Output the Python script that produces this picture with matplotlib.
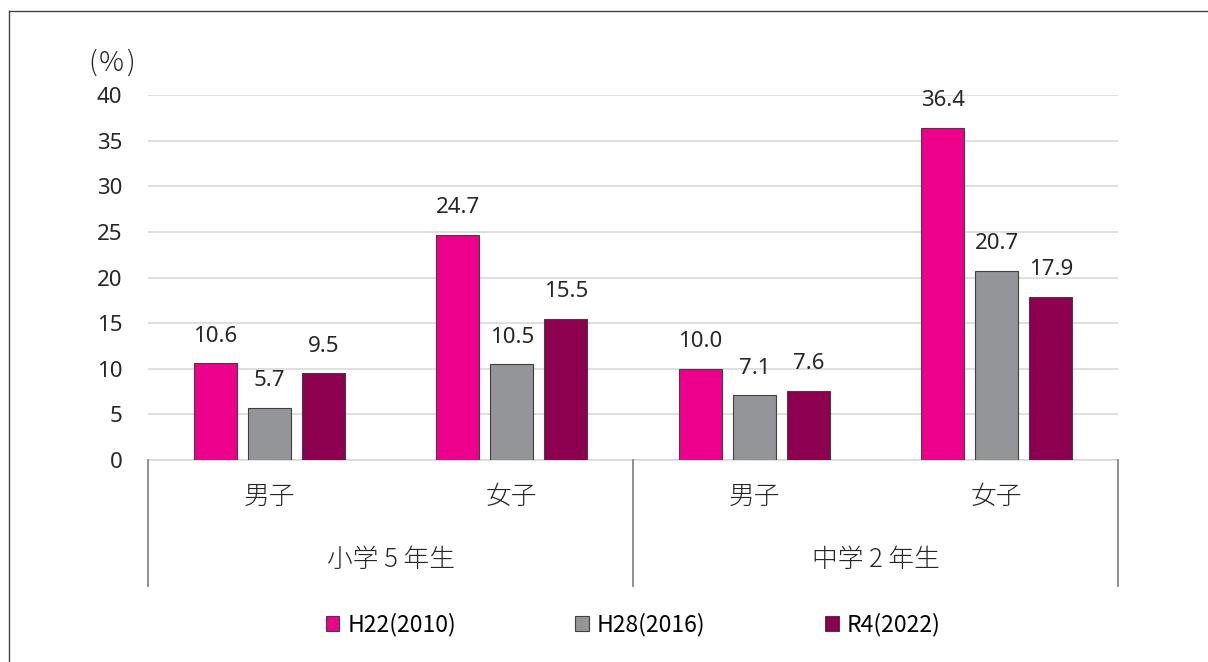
import numpy as np
import matplotlib.pyplot as plt
from matplotlib.lines import Line2D

plt.rcParams['font.family'] = ['Noto Sans CJK JP', 'DejaVu Sans']

# Data
sub_labels = ["男子", "女子", "男子", "女子"]
group_labels = ["小学 5 年生", "中学 2 年生"]
series_names = ["H22(2010)", "H28(2016)", "R4(2022)"]
h22 = [10.6, 24.7, 10.0, 36.4]
h28 = [5.7, 10.5, 7.1, 20.7]
r4 = [9.5, 15.5, 7.6, 17.9]
colors = ["#EC008C", "#939598", "#8C004F"]

W, H = 1208, 662
txt = "#262626"
num_font = ['Noto Sans', 'DejaVu Sans']

fig = plt.figure(figsize=(W / 100, H / 100), dpi=100)
ax = fig.add_axes([148 / W, (H - 460) / H, 970 / W, 365 / H])

x = np.arange(len(sub_labels))
offsets = [-0.223, 0.0, 0.223]
bar_w = 0.177
for vals, off, col, name in zip([h22, h28, r4], offsets, colors, series_names):
    bars = ax.bar(x + off, vals, width=bar_w, color=col, edgecolor="#404040",
                  linewidth=0.8, label=name, zorder=3)
    for b, v in zip(bars, vals):
        ax.annotate(f"{v:.1f}", (b.get_x() + b.get_width() / 2, v),
                    xytext=(0, 12), textcoords="offset points",
                    ha="center", va="bottom", fontsize=16, color=txt,
                    family=num_font)

ax.set_xlim(-0.5, 3.5)
ax.set_ylim(0, 40)
ax.set_yticks(range(0, 41, 5))
ax.yaxis.grid(True, color="#d9d9d9", linewidth=1.2, zorder=0)
ax.set_axisbelow(True)
for s in ["top", "right", "left"]:
    ax.spines[s].set_visible(False)
ax.spines["bottom"].set_color("#d9d9d9")
ax.spines["bottom"].set_linewidth(1.2)
ax.tick_params(axis="y", length=0, pad=18.5, labelsize=16, labelcolor=txt)
for t in ax.get_yticklabels():
    t.set_family(num_font)
ax.set_xticks([])

# hierarchical category axis
for i, lab in enumerate(sub_labels):
    fig.text((148 + 242.5 * (i + 0.5)) / W, 1 - 497 / H, lab, ha="center",
             va="center", fontsize=18.5, color=txt, fontweight="light")
for j, lab in enumerate(group_labels):
    fig.text((148 + 485 * (j + 0.5)) / W, 1 - 560 / H, lab, ha="center",
             va="center", fontsize=18.5, color=txt, fontweight="light")
for xp in [148, 633, 1118]:
    fig.add_artist(Line2D([xp / W, xp / W], [1 - 460 / H, 1 - 586 / H],
                          color="#888888", linewidth=1.3))

# unit label, wide parentheses like the original
for xp, s in [(93, "("), (111.5, "%"), (130, ")")]:
    fig.text(xp / W, 1 - 63 / H, s, ha="center", va="center", fontsize=20,
             color=txt, fontweight="light")

# outer frame (top and left visible)
fig.add_artist(Line2D([9 / W, 1], [1 - 11 / H, 1 - 11 / H], color="#444444", linewidth=1))
fig.add_artist(Line2D([9 / W, 9 / W], [1 - 11 / H, 0], color="#444444", linewidth=1))

fig.legend(loc="center", bbox_to_anchor=(633 / W, 1 - 625 / H), ncol=3,
           frameon=False, fontsize=16.5, handlelength=0.6, handleheight=0.6,
           handletextpad=0.35, columnspacing=5.2)

fig.savefig("out.png", dpi=100)
